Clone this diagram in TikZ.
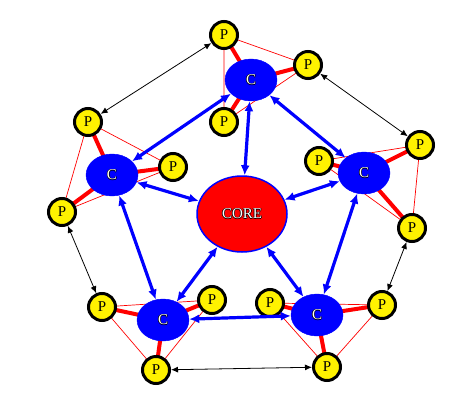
\documentclass[tikz,border=0pt]{standalone}
\usepackage{fontspec}
\setmainfont{Liberation Serif}
\usetikzlibrary{arrows.meta,shapes.geometric}
\pgfdeclarelayer{bg}
\pgfsetlayers{bg,main}
\newcommand\olt[1]{\leavevmode\rlap{\hspace{0.7pt}\textcolor{black}{#1}}\rlap{\hspace{-0.7pt}\textcolor{black}{#1}}\rlap{\raisebox{0.7pt}{\textcolor{black}{#1}}}\rlap{\raisebox{-0.7pt}{\textcolor{black}{#1}}}\textcolor{white}{#1}}
\tikzset{
  pnode/.style={circle,fill=yellow,draw=black,line width=3pt,minimum size=27pt,inner sep=0pt,font=\fontsize{15}{15}\selectfont},
  cnode/.style={ellipse,fill=blue,draw=blue,minimum width=52pt,minimum height=42pt,inner sep=0pt,font=\fontsize{15}{15}\selectfont},
  corenode/.style={ellipse,fill=red,draw=blue,line width=1.5pt,minimum width=90pt,minimum height=76pt,inner sep=0pt,font=\fontsize{15}{15}\selectfont},
  tri/.style={draw=red,line width=0.7pt},
  spoke/.style={draw=red,line width=4pt},
  barrow/.style={draw=blue,line width=3.2pt,{Latex[length=10pt,width=9pt]}-{Latex[length=10pt,width=9pt]}},
  karrow/.style={draw=black,line width=0.8pt,{Latex[length=7pt,width=6pt]}-{Latex[length=7pt,width=6pt]}}
}
\begin{document}
\begin{tikzpicture}[x=1pt,y=-1pt]
\useasboundingbox (0,0) rectangle (462,401);
% core
\node[corenode] (core) at (242,214) {\olt{CORE}};
% C nodes
\node[cnode] (ct) at (251,80) {\olt{C}};
\node[cnode] (cl) at (112,175) {\olt{C}};
\node[cnode] (cr) at (364,173) {\olt{C}};
\node[cnode] (cbl) at (163,320) {\olt{C}};
\node[cnode] (cbr) at (317,315) {\olt{C}};
% P nodes
\node[pnode] (t1) at (224,35) {P};
\node[pnode] (t2) at (308,65) {P};
\node[pnode] (t3) at (224,122) {P};
\node[pnode] (l1) at (88,122) {P};
\node[pnode] (l2) at (173,167) {P};
\node[pnode] (l3) at (62,212) {P};
\node[pnode] (r1) at (319,161) {P};
\node[pnode] (r2) at (420,145) {P};
\node[pnode] (r3) at (412,228) {P};
\node[pnode] (bl1) at (102,307) {P};
\node[pnode] (bl2) at (212,300) {P};
\node[pnode] (bl3) at (156,370) {P};
\node[pnode] (br1) at (270,303) {P};
\node[pnode] (br2) at (382,305) {P};
\node[pnode] (br3) at (327,367) {P};
\begin{pgfonlayer}{bg}
\fill[white] (0,0) rectangle (462,401);
% triangles
\foreach \a/\b/\c in {t1/t2/t3,l1/l2/l3,r1/r2/r3,bl1/bl2/bl3,br1/br2/br3}{
  \draw[tri] (\a.center) -- (\b.center) -- (\c.center) -- cycle;
}
% spokes
\foreach \c/\p in {ct/t1,ct/t2,ct/t3,cl/l1,cl/l2,cl/l3,cr/r1,cr/r2,cr/r3,cbl/bl1,cbl/bl2,cbl/bl3,cbr/br1,cbr/br2,cbr/br3}{
  \draw[spoke] (\c.center) -- (\p.center);
}
\end{pgfonlayer}
% blue arrows
\foreach \a/\b in {ct/core,cl/core,cr/core,cbl/core,cbr/core,ct/cl,ct/cr,cl/cbl,cbl/cbr,cbr/cr}{
  \draw[barrow] (\a) -- (\b);
}
% black arrows
\draw[karrow] (t1) -- (l1);
\draw[karrow] (t2) -- (r2);
\draw[karrow] (l3) -- (bl1);
\draw[karrow] (r3) -- (br2);
\draw[karrow] (bl3) -- (br3);
\end{tikzpicture}
\end{document}
